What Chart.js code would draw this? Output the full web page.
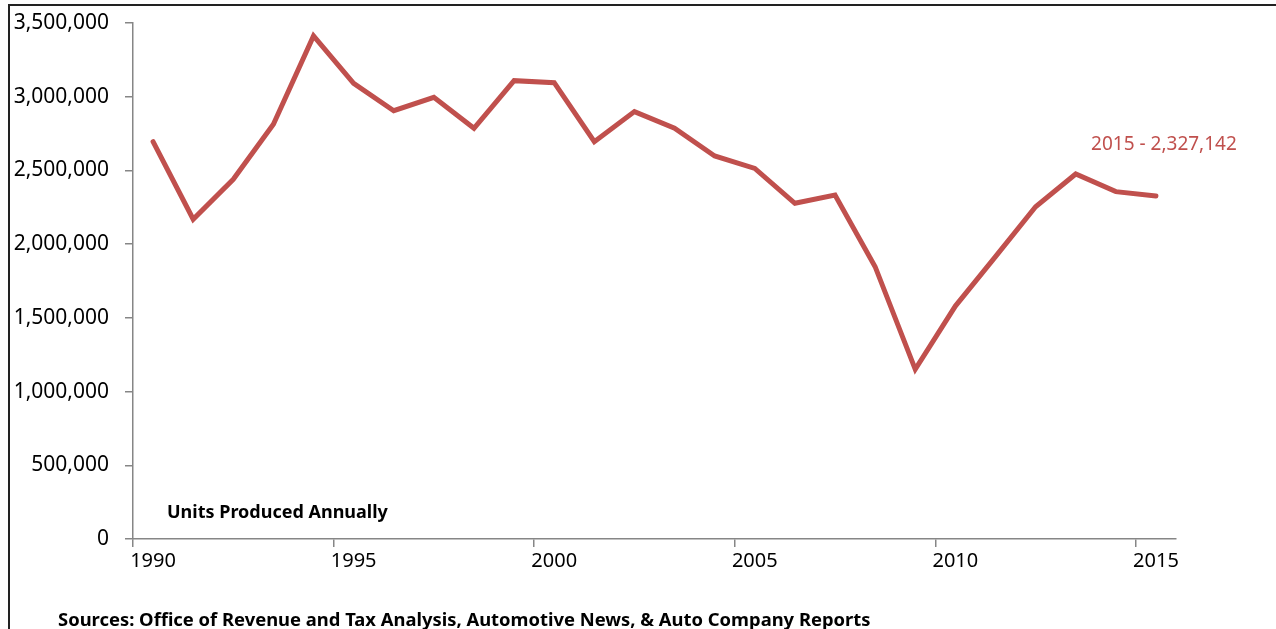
<!DOCTYPE html>
<html>
<head>
<meta charset="utf-8">
<script src="https://cdn.jsdelivr.net/npm/chart.js@4.4.1/dist/chart.umd.min.js"></script>
<style>
  html, body { margin: 0; padding: 0; background: #fff; }
  body { width: 1276px; height: 629px; position: relative; overflow: hidden; font-family: "Noto Sans", sans-serif; }
  #frame { position: absolute; left: 8px; top: 4px; right: -10px; bottom: -10px; border-left: 2px solid #222; border-top: 2px solid #222; }
  #wrap { position: absolute; left: 0; top: 0; width: 1276px; height: 629px; }
  #sources { position: absolute; left: 58px; top: 606px; font-weight: bold; font-size: 18.4px; color: #000; white-space: nowrap; }
</style>
</head>
<body>
<div id="frame"></div>
<div id="wrap"><canvas id="prodChart" width="1276" height="629"></canvas></div>
<div id="sources">Sources: Office of Revenue and Tax Analysis, Automotive News, &amp; Auto Company Reports</div>
<script>
/* ===============================
   DATA
================================ */
const years = ["1990","1991","1992","1993","1994","1995","1996","1997","1998","1999",
               "2000","2001","2002","2003","2004","2005","2006","2007","2008","2009",
               "2010","2011","2012","2013","2014","2015"];
const units = [2695000, 2169000, 2440000, 2813000, 3412000, 3091000, 2905000, 2996000, 2786000, 3109000,
               3095000, 2695000, 2899000, 2786000, 2598000, 2514000, 2277000, 2333000, 1847000, 1151000,
               1580000, 1915000, 2254000, 2476000, 2356000, 2327142];
const yTicks = [0, 500000, 1000000, 1500000, 2000000, 2500000, 3000000, 3500000];
const seriesLabel = "Units Produced Annually";
const lastLabel = "2015 - 2,327,142";

const RED = "#C0504D";
const AXIS = "#868686";

/* ===============================
   TEXT PLUGIN
================================ */
const textPlugin = {
  id: "texts",
  afterDatasetsDraw(c) {
    const ctx = c.ctx;
    const x = c.scales.x, y = c.scales.y;
    ctx.save();
    // series caption inside the plot
    ctx.font = "bold 18px 'Noto Sans'";
    ctx.fillStyle = "#000";
    ctx.textBaseline = "middle";
    ctx.textAlign = "left";
    ctx.fillText(seriesLabel, c.chartArea.left + 34, 513);
    // last value callout
    const i = units.length - 1;
    ctx.font = "19px 'Noto Sans'";
    ctx.fillStyle = RED;
    ctx.textAlign = "center";
    ctx.fillText(lastLabel, x.getPixelForValue(i) + 8, y.getPixelForValue(units[i]) - 51);
    ctx.restore();
  }
};

/* ===============================
   CHART
================================ */
new Chart(document.getElementById("prodChart"), {
  type: "line",
  data: {
    labels: years,
    datasets: [{
      label: seriesLabel,
      data: units,
      borderColor: RED,
      borderWidth: 5,
      pointRadius: 0,
      tension: 0,
      borderCapStyle: "round",
      borderJoinStyle: "miter"
    }]
  },
  options: {
    responsive: false,
    animation: false,
    devicePixelRatio: 1,
    layout: { padding: { top: 23, right: 100, bottom: 40, left: 0 } },
    plugins: { legend: { display: false }, tooltip: { enabled: false } },
    scales: {
      x: {
        type: "category",
        offset: true,
        afterFit: s => { s.height = 50; },
        border: { color: AXIS, width: 1.5 },
        grid: {
          offset: true,
          drawOnChartArea: false,
          tickLength: 8,
          lineWidth: 1.5,
          color: ctx => (ctx.index % 5 === 0 ? AXIS : "rgba(0,0,0,0)")
        },
        ticks: {
          autoSkip: false,
          maxRotation: 0,
          padding: 2,
          color: "#000",
          font: { family: "'Noto Sans'", size: 20 },
          callback: function (v, i) { return i % 5 === 0 ? this.getLabelForValue(v) : ""; }
        }
      },
      y: {
        min: 0,
        max: 3500000,
        afterFit: s => { s.width = 133; s.paddingTop = 12; s.paddingBottom = 12; },
        afterBuildTicks: s => { s.ticks = yTicks.map(v => ({ value: v })); },
        border: { color: AXIS, width: 1.5 },
        grid: { drawOnChartArea: false, tickLength: 8, lineWidth: 1.5, color: AXIS },
        ticks: {
          padding: 16,
          color: "#000",
          font: { family: "'Noto Sans'", size: 21 },
          callback: v => v.toLocaleString("en-US")
        }
      }
    }
  },
  plugins: [textPlugin]
});
</script>
</body>
</html>
